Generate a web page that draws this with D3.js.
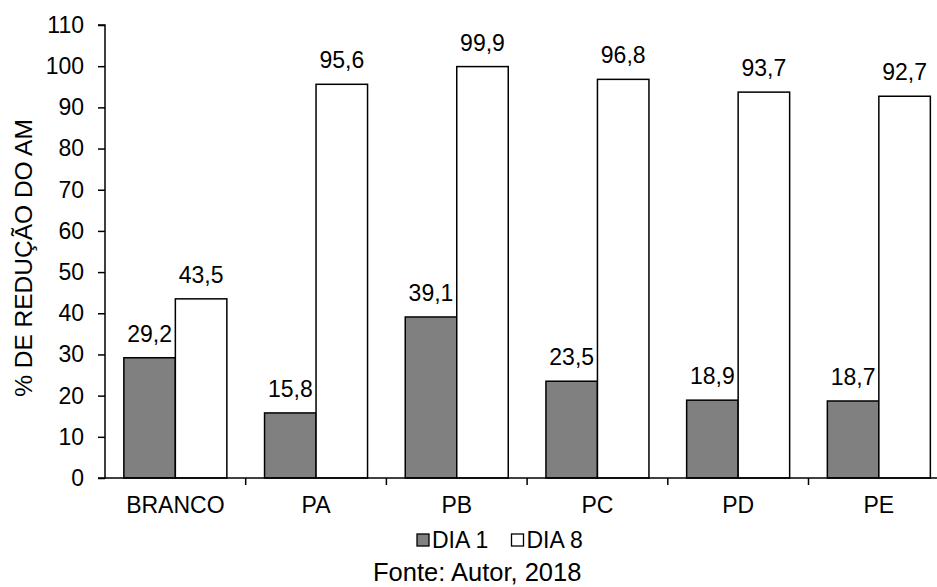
<!DOCTYPE html>
<html>
<head>
<meta charset="utf-8">
<script src="https://cdn.jsdelivr.net/npm/d3@7"></script>
<style>
  html, body { margin: 0; padding: 0; background: #fff; }
  svg text { font-family: "Liberation Sans", Arial, sans-serif; fill: #000; }
</style>
</head>
<body>
<svg id="chart" width="937" height="587"></svg>
<script>
// Percentage of methylene blue (AM) reduction per sample, day 1 vs day 8
const categories = ["BRANCO", "PA", "PB", "PC", "PD", "PE"];
const dia1 = [29.2, 15.8, 39.1, 23.5, 18.9, 18.7];
const dia8 = [43.5, 95.6, 99.9, 96.8, 93.7, 92.7];
const seriesNames = ["DIA 1", "DIA 8"];
const seriesFill = ["#808080", "#ffffff"];
const yTicks = [0, 10, 20, 30, 40, 50, 60, 70, 80, 90, 100, 110];

const fmt = v => v.toFixed(1).replace(".", ",");
const fontSize = 23;

const svg = d3.select("#chart");
const plotLeft = 105, plotTop = 25, plotBottom = 478;
const band = 140.7;
const plotRight = plotLeft + band * categories.length;

const x = d3.scaleBand().domain(categories).range([plotLeft, plotRight]).padding(0);
const xs = d3.scaleBand().domain([0, 1]).range([0, band]).paddingInner(0).paddingOuter(0.366);
const y = d3.scaleLinear().domain([0, 110]).range([plotBottom, plotTop]);

const rows = categories.map((c, i) => ({ cat: c, vals: [dia1[i], dia8[i]] }));

// Bars with value labels
const g = svg.append("g");
rows.forEach(r => {
  r.vals.forEach((v, s) => {
    const bx = x(r.cat) + xs(s);
    g.append("rect")
      .attr("x", bx)
      .attr("y", y(v))
      .attr("width", xs.bandwidth())
      .attr("height", y(0) - y(v))
      .attr("fill", seriesFill[s])
      .attr("stroke", "#000")
      .attr("stroke-width", 1.5);
    g.append("text")
      .attr("x", bx + xs.bandwidth() / 2)
      .attr("y", y(v) - 16)
      .attr("text-anchor", "middle")
      .attr("font-size", fontSize)
      .text(fmt(v));
  });
});

// Y axis
const yAxis = d3.axisLeft(y).tickValues(yTicks).tickSize(7).tickPadding(14);
const ya = svg.append("g").attr("transform", `translate(${plotLeft},0)`).call(yAxis);
ya.select(".domain").attr("stroke", "#000").attr("stroke-width", 1.5).attr("d", `M-7,${plotTop}H0V${plotBottom}H-7`);
ya.selectAll(".tick line").attr("stroke", "#000").attr("stroke-width", 1.5);
ya.selectAll(".tick text").attr("font-size", fontSize).attr("font-family", "Liberation Sans, Arial, sans-serif").attr("fill", "#000");

// X axis
const xa = svg.append("g").attr("transform", `translate(0,${plotBottom})`);
xa.append("line").attr("x1", plotLeft).attr("x2", plotRight).attr("y1", 0).attr("y2", 0)
  .attr("stroke", "#000").attr("stroke-width", 1.5);
categories.forEach((c, i) => {
  if (i > 0) {
    xa.append("line").attr("x1", x(c)).attr("x2", x(c)).attr("y1", 0).attr("y2", 7)
      .attr("stroke", "#000").attr("stroke-width", 1.5);
  }
  xa.append("text")
    .attr("x", x(c) + band / 2)
    .attr("y", 35)
    .attr("text-anchor", "middle")
    .attr("font-size", fontSize)
    .text(c);
});

// Y axis title
svg.append("text")
  .attr("transform", `translate(32,258) rotate(-90)`)
  .attr("text-anchor", "middle")
  .attr("font-size", 24.5)
  .text("% DE REDUÇÃO DO AM");

// Legend
const legend = svg.append("g");
const legendX = [417, 511.5];
seriesNames.forEach((n, s) => {
  legend.append("rect")
    .attr("x", legendX[s]).attr("y", 534)
    .attr("width", 12).attr("height", 12)
    .attr("fill", seriesFill[s]).attr("stroke", "#000").attr("stroke-width", 1.3);
  legend.append("text")
    .attr("x", legendX[s] + 15).attr("y", 547.5)
    .attr("font-size", fontSize)
    .text(n);
});

// Source note
svg.append("text")
  .attr("x", 373).attr("y", 581)
  .attr("font-size", 25.5)
  .text("Fonte: Autor, 2018");
</script>
</body>
</html>
